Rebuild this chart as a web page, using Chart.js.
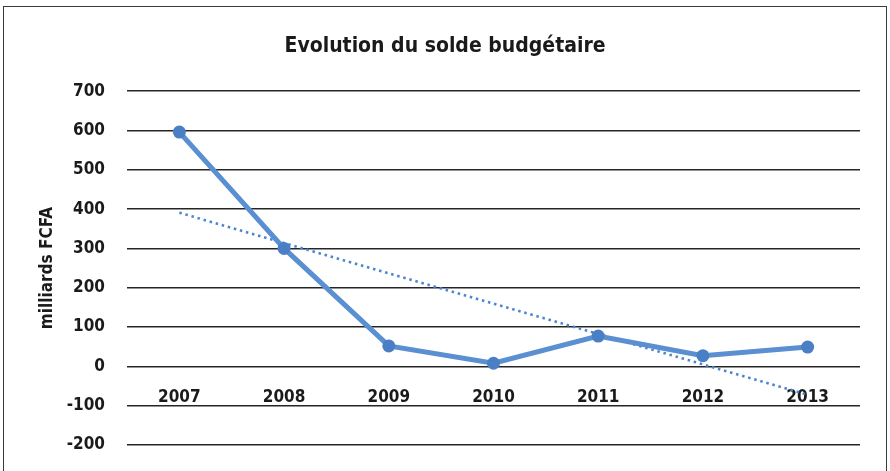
<!DOCTYPE html>
<html>
<head>
<meta charset="utf-8">
<script src="https://cdn.jsdelivr.net/npm/chart.js@4"></script>
<style>
  html, body { margin: 0; padding: 0; background: #fff; overflow: hidden; }
  #wrap { position: absolute; left: 0; top: 0; width: 890px; height: 471px; }
  #frame { position: absolute; left: 3px; top: 6px; width: 882px; height: 480px; border: 1.5px solid #3a3a3a; }
  #chart { position: absolute; left: 0; top: 0; }
</style>
</head>
<body>
<div id="wrap">
  <div id="frame"></div>
  <canvas id="chart" width="890" height="471"></canvas>
</div>
<script>
const years = ['2007', '2008', '2009', '2010', '2011', '2012', '2013']
const solde = [596, 300, 52, 8, 77, 27, 49]
// trend line, only the two ends
const tendance = [391, null, null, null, null, null, -72]

const fontFam = "'Liberation Sans Narrow', 'Arial Narrow', 'DejaVu Sans Condensed', sans-serif"

Chart.defaults.font.family = fontFam
Chart.defaults.color = '#1a1a1a'

const ctx = document.getElementById('chart').getContext('2d')

new Chart(ctx, {
  type: 'line',
  data: {
    labels: years,
    datasets: [{
      label: 'Solde budgétaire',
      data: solde,
      borderColor: '#5a8fd2',
      backgroundColor: '#4a7fc5',
      borderWidth: 5,
      pointRadius: 6.5,
      pointHoverRadius: 6.5,
      pointBorderWidth: 0,
      pointBackgroundColor: '#4a7fc5',
      tension: 0,
      order: 1
    }, {
      label: 'Tendance',
      data: tendance,
      spanGaps: true,
      borderColor: '#4a86d0',
      borderWidth: 2.6,
      borderDash: [2.5, 3.8],
      pointRadius: 0,
      fill: false,
      order: 2
    }]
  },
  options: {
    responsive: false,
    animation: false,
    events: [],
    layout: { padding: { left: 3, right: 3, top: 0, bottom: 26 } },
    plugins: {
      legend: { display: false },
      tooltip: { enabled: false },
      title: {
        display: true,
        text: 'Evolution du solde budgétaire',
        color: '#1a1a1a',
        font: { size: 21, weight: 'bold', family: fontFam },
        padding: { top: 34, bottom: 32 }
      }
    },
    scales: {
      x: {
        position: { y: 0 },
        offset: true,
        grid: { display: false, drawTicks: false },
        border: { display: false },
        ticks: {
          padding: 21,
          color: '#1a1a1a',
          font: { size: 17, weight: 'bold' }
        }
      },
      y: {
        min: -200,
        max: 700,
        afterFit: function (scale) {
          scale.width = 124
          scale.paddingTop = 10
          scale.paddingBottom = 10
        },
        ticks: {
          stepSize: 100,
          padding: 22,
          color: '#1a1a1a',
          font: { size: 17, weight: 'bold' }
        },
        grid: { color: '#262626', lineWidth: 1.5, drawTicks: false },
        border: { display: false },
        title: {
          display: true,
          text: 'milliards FCFA',
          color: '#1a1a1a',
          font: { size: 17, weight: 'bold' },
          padding: { top: 34, bottom: 0 }
        }
      },
      // empty right-hand space so the title is centred on the whole frame
      yRight: {
        position: 'right',
        grid: { display: false, drawTicks: false },
        border: { display: false },
        ticks: { display: false },
        afterFit: function (scale) {
          scale.width = 27
          scale.paddingTop = 0
          scale.paddingBottom = 0
        }
      }
    }
  }
})
</script>
</body>
</html>
